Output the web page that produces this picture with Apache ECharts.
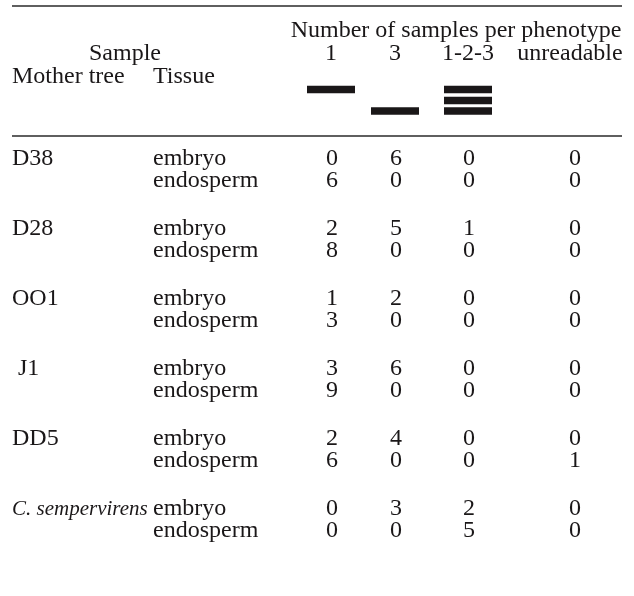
<!DOCTYPE html>
<html><head><meta charset="utf-8">
<script src="https://cdn.jsdelivr.net/npm/echarts@6/dist/echarts.min.js"></script>
<style>html,body{margin:0;padding:0;background:#fff}#c{width:634px;height:596px}</style>
</head><body><div id="c"></div>
<script>
// ---- data ----
const motherTrees = ['D38', 'D28', 'OO1', ' J1', 'DD5', 'C. sempervirens'];
const tissues = ['embryo', 'endosperm'];
const phenotypes = ['1', '3', '1-2-3', 'unreadable'];
// counts per phenotype, rows = mother tree x tissue (embryo, endosperm)
const pheno1      = [0, 6, 2, 8, 1, 3, 3, 9, 2, 6, 0, 0];
const pheno3      = [6, 0, 5, 0, 2, 0, 6, 0, 4, 0, 3, 0];
const pheno123    = [0, 0, 1, 0, 0, 0, 0, 0, 0, 0, 2, 5];
const phenoUnread = [0, 0, 0, 0, 0, 0, 0, 0, 0, 1, 0, 0];
// band pattern of each phenotype (0 = upper band position, 1 = middle, 2 = lower)
const bandPattern = [[0], [2], [0, 1, 2], []];
const titleText = 'Number of samples per phenotype';
const sampleText = 'Sample';
const headMother = 'Mother tree';
const headTissue = 'Tissue';

// ---- layout (pixel-scale value axes) ----
const W = 634, H = 596;
const FONT = 'Liberation Serif';
const FS = 24;
const TXT = '#1a1718';
const colX = [12, 153, 332, 396, 469, 575];
const headX = [331, 395, 468, 570];
const rowY0 = 159, rowPitch = 22, groupPitch = 70;
const titleY = 31, line2Y = 54, line3Y = 77;
const bandY = [89.5, 100.5, 111];
const rules = [6, 136];
const ruleX = [12, 622];

const counts = [pheno1, pheno3, pheno123, phenoUnread];
const textData = [];
function addText(x, y, s, align, italic) {
  textData.push({
    value: [x, y, s],
    label: italic ? { align: align, fontStyle: 'italic', fontSize: 21 } : { align: align }
  });
}
addText(456, titleY, titleText, 'center');
addText(125, line2Y, sampleText, 'center');
phenotypes.forEach((p, i) => addText(headX[i], line2Y, p, 'center'));
addText(colX[0], line3Y, headMother, 'left');
addText(colX[1], line3Y, headTissue, 'left');

motherTrees.forEach((m, g) => {
  const y0 = rowY0 + g * groupPitch;
  addText(colX[0], y0, m, 'left', m.indexOf('sempervirens') >= 0);
  tissues.forEach((t, k) => {
    const y = y0 + k * rowPitch;
    const r = g * 2 + k;
    addText(colX[1], y, t, 'left');
    counts.forEach((arr, c) => addText(colX[2 + c], y, String(arr[r]), 'center'));
  });
});

const bandData = [];
bandPattern.forEach((bands, i) => bands.forEach(b => bandData.push([headX[i], bandY[b]])));

const ruleSeries = rules.map(y => ({
  type: 'line', data: [[ruleX[0], y], [ruleX[1], y]], symbol: 'none', silent: true,
  lineStyle: { color: '#2a2a2a', width: 1.4 }, z: 1
}));

const chart = echarts.init(document.getElementById('c'), null, { renderer: 'canvas' });
chart.setOption({
  animation: false,
  backgroundColor: '#fff',
  grid: { left: 0, right: 0, top: 0, bottom: 0 },
  xAxis: { type: 'value', min: 0, max: W, show: false },
  yAxis: { type: 'value', min: 0, max: H, inverse: true, show: false },
  series: [
    ...ruleSeries,
    {
      type: 'scatter', data: bandData, symbol: 'rect', symbolSize: [48, 7.5], silent: true,
      itemStyle: { color: '#1a1718', opacity: 1 }
    },
    {
      type: 'scatter', data: textData, symbolSize: 0, silent: true,
      itemStyle: { opacity: 1 },
      label: {
        show: true, position: 'inside', verticalAlign: 'middle',
        fontFamily: FONT, fontSize: FS, color: TXT, opacity: 1,
        formatter: p => p.value[2]
      }
    }
  ]
});
</script></body></html>
